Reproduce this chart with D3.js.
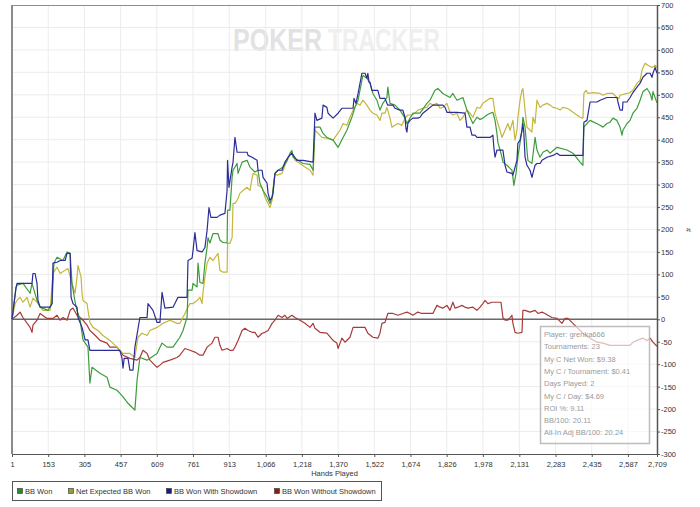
<!DOCTYPE html>
<meta charset="utf-8">
<title>BB Won graph</title>
<style>
  body { margin: 0; background: #fff; }
  text { font-family: "Liberation Sans", Arial, sans-serif; }
</style>
<body>
<script src="https://cdn.jsdelivr.net/npm/d3@7/dist/d3.min.js"></script>
<script>
// hands played ticks + bb axis ticks
var xTicks = [1,153,305,457,609,761,913,1066,1218,1370,1522,1674,1826,1978,2131,2283,2435,2587,2709];
var yTicks = [-300,-250,-200,-150,-100,-50,0,50,100,150,200,250,300,350,400,450,500,550,600,650,700];

// [hand, bb]
var bbWon = [[1,0],[18,71],[22,76],[47,80],[77,58],[85,80],[106,42],[119,27],[152,20],[169,35],[177,125],[190,138],[215,131],[232,150],[245,147],[253,80],[266,38],[274,20],[287,-2],[299,-46],[320,-62],[328,-142],[337,-107],[370,-120],[400,-129],[412,-151],[442,-158],[454,-165],[467,-173],[488,-187],[509,-198],[517,-202],[526,-136],[538,-85],[568,-91],[610,-76],[631,-53],[652,-62],[677,-62],[706,-40],[719,-25],[736,5],[740,65],[757,65],[761,80],[778,72],[782,125],[790,82],[803,80],[811,125],[820,160],[824,182],[832,170],[845,191],[866,191],[874,176],[887,171],[904,170],[906,243],[916,243],[925,316],[929,332],[946,347],[950,325],[967,350],[988,354],[1000,339],[1021,328],[1034,332],[1042,303],[1055,287],[1072,272],[1084,258],[1093,272],[1105,325],[1118,332],[1139,339],[1156,354],[1168,370],[1176,376],[1181,361],[1202,354],[1223,347],[1252,345],[1265,332],[1273,428],[1294,428],[1307,414],[1323,405],[1349,399],[1370,383],[1391,405],[1407,421],[1428,450],[1441,472],[1454,488],[1470,532],[1474,543],[1491,537],[1504,526],[1516,503],[1533,488],[1546,466],[1558,481],[1575,494],[1579,517],[1588,481],[1609,477],[1630,466],[1651,448],[1659,436],[1684,459],[1714,459],[1743,481],[1756,488],[1777,510],[1789,514],[1810,503],[1840,494],[1852,503],[1869,488],[1894,494],[1911,466],[1924,450],[1936,436],[1953,450],[1966,445],[1978,448],[1995,455],[2008,459],[2020,461],[2029,443],[2037,414],[2041,394],[2050,377],[2058,361],[2062,350],[2079,343],[2092,336],[2100,332],[2104,316],[2108,298],[2117,325],[2125,361],[2142,421],[2146,450],[2155,428],[2163,377],[2167,354],[2184,347],[2197,405],[2205,377],[2218,361],[2230,372],[2247,377],[2260,370],[2289,383],[2331,377],[2356,370],[2386,350],[2398,343],[2402,428],[2415,436],[2428,443],[2470,432],[2482,428],[2499,436],[2512,439],[2524,448],[2541,443],[2554,428],[2562,410],[2566,421],[2583,436],[2596,443],[2608,459],[2625,470],[2638,488],[2650,507],[2667,514],[2680,503],[2688,488],[2692,507],[2709,482]];

var netExpected = [[1,0],[14,35],[22,42],[35,49],[47,38],[64,49],[77,27],[89,47],[106,38],[131,20],[161,20],[173,102],[190,116],[203,102],[224,109],[236,113],[253,80],[266,58],[274,94],[278,120],[291,94],[295,58],[299,42],[316,35],[320,20],[328,-7],[341,-18],[362,-25],[383,-36],[412,-47],[442,-62],[467,-76],[496,-76],[517,-85],[530,-40],[547,-31],[568,-36],[580,-25],[610,-18],[635,-9],[664,-2],[694,-9],[706,-9],[727,13],[748,35],[761,35],[778,42],[790,49],[799,35],[803,60],[811,94],[820,125],[832,138],[845,131],[866,147],[874,109],[887,105],[904,105],[906,169],[916,169],[925,182],[929,258],[937,258],[946,265],[950,269],[958,281],[971,287],[988,294],[1000,287],[1009,314],[1013,325],[1030,321],[1034,298],[1051,294],[1063,272],[1076,258],[1084,249],[1093,265],[1105,325],[1114,321],[1135,325],[1147,343],[1160,358],[1176,372],[1189,354],[1210,347],[1231,339],[1252,332],[1265,321],[1273,421],[1286,414],[1302,405],[1328,403],[1349,399],[1357,405],[1378,421],[1391,436],[1407,432],[1420,450],[1433,466],[1449,481],[1462,477],[1474,488],[1491,477],[1504,466],[1516,459],[1533,455],[1546,443],[1554,459],[1567,459],[1575,472],[1588,448],[1596,428],[1609,432],[1621,436],[1638,432],[1651,448],[1663,455],[1680,455],[1693,459],[1705,466],[1726,470],[1743,472],[1756,481],[1768,477],[1785,481],[1798,470],[1810,472],[1827,481],[1840,461],[1852,455],[1869,459],[1882,443],[1894,450],[1911,466],[1924,459],[1936,450],[1953,472],[1966,470],[1978,481],[1995,488],[2008,492],[2020,492],[2029,459],[2041,436],[2050,421],[2058,405],[2062,410],[2071,421],[2083,436],[2092,421],[2104,443],[2113,399],[2121,421],[2125,450],[2134,488],[2142,510],[2146,514],[2155,466],[2163,428],[2176,421],[2184,417],[2188,450],[2197,436],[2205,488],[2218,472],[2230,477],[2247,481],[2260,477],[2272,472],[2289,470],[2302,466],[2314,472],[2331,470],[2344,466],[2356,461],[2373,455],[2386,450],[2398,448],[2402,503],[2411,510],[2419,503],[2440,505],[2470,503],[2482,499],[2499,503],[2524,503],[2541,494],[2549,492],[2554,499],[2583,503],[2596,505],[2608,510],[2625,526],[2638,532],[2646,555],[2659,570],[2671,566],[2688,561],[2701,566],[2709,561]];

var withShowdown = [[1,0],[18,71],[22,80],[85,80],[89,102],[98,102],[106,80],[110,42],[119,27],[161,27],[169,35],[173,125],[190,127],[203,131],[224,131],[232,147],[245,147],[249,49],[257,35],[274,27],[278,4],[295,-18],[308,-46],[320,-46],[328,-69],[454,-69],[463,-87],[467,-109],[472,-87],[488,-87],[496,-113],[509,-113],[517,-62],[538,4],[568,4],[572,35],[593,20],[610,-7],[622,-7],[631,60],[643,25],[677,27],[698,49],[736,49],[740,131],[757,136],[761,153],[769,193],[778,153],[799,150],[811,160],[820,198],[828,249],[836,227],[862,227],[874,232],[895,236],[904,287],[906,354],[912,294],[925,339],[929,350],[937,405],[946,372],[988,372],[992,365],[1009,361],[1030,354],[1034,332],[1051,332],[1055,316],[1063,310],[1072,303],[1076,281],[1084,265],[1093,272],[1097,281],[1105,325],[1118,332],[1135,332],[1139,339],[1147,350],[1160,361],[1176,370],[1197,354],[1223,354],[1265,350],[1273,459],[1281,443],[1302,448],[1307,477],[1323,472],[1328,459],[1349,448],[1370,459],[1386,470],[1433,470],[1437,492],[1445,481],[1454,503],[1470,548],[1483,548],[1491,537],[1495,548],[1500,528],[1504,528],[1512,510],[1537,510],[1546,492],[1567,492],[1575,481],[1579,477],[1600,477],[1609,470],[1630,466],[1642,466],[1651,450],[1655,425],[1659,417],[1663,436],[1672,443],[1684,448],[1705,448],[1714,450],[1726,459],[1743,466],[1768,477],[1810,477],[1819,472],[1827,461],[1869,461],[1903,459],[1911,428],[1924,428],[1932,410],[1945,410],[1953,405],[2008,405],[2020,410],[2024,383],[2029,361],[2037,377],[2062,377],[2071,343],[2079,328],[2100,325],[2104,321],[2121,354],[2125,392],[2134,399],[2142,421],[2146,436],[2150,414],[2155,361],[2163,343],[2176,332],[2184,316],[2188,325],[2197,343],[2205,347],[2218,347],[2226,354],[2247,361],[2272,365],[2289,370],[2302,365],[2398,365],[2402,439],[2415,443],[2428,484],[2457,484],[2470,488],[2499,494],[2541,494],[2545,484],[2554,466],[2564,466],[2566,484],[2583,484],[2596,494],[2608,505],[2625,517],[2638,526],[2650,539],[2667,548],[2680,548],[2688,539],[2692,548],[2701,561],[2709,548]];

var withoutShowdown = [[1,0],[22,9],[35,16],[47,4],[77,-18],[85,-29],[89,-13],[106,-2],[119,13],[148,2],[173,2],[190,9],[203,-2],[215,4],[232,-2],[245,20],[257,25],[274,9],[287,4],[299,-2],[316,-13],[328,-25],[341,-31],[358,-40],[370,-47],[400,-53],[412,-62],[442,-62],[467,-80],[496,-87],[526,-91],[538,-85],[551,-69],[568,-76],[580,-91],[593,-98],[610,-107],[622,-102],[635,-96],[664,-91],[694,-85],[706,-80],[727,-65],[748,-69],[769,-73],[790,-80],[803,-80],[820,-62],[841,-53],[853,-40],[866,-40],[874,-58],[883,-69],[904,-65],[916,-69],[929,-69],[937,-62],[950,-47],[967,-25],[979,-20],[992,-25],[1009,-29],[1021,-29],[1034,-40],[1051,-31],[1063,-29],[1076,-25],[1093,-9],[1105,-2],[1118,9],[1135,4],[1147,9],[1156,2],[1176,9],[1189,4],[1210,-2],[1231,-9],[1252,-18],[1265,-9],[1273,-20],[1294,-29],[1323,-31],[1349,-47],[1365,-53],[1370,-65],[1386,-42],[1399,-51],[1420,-40],[1433,-18],[1449,-18],[1483,-18],[1495,-31],[1516,-40],[1537,-42],[1546,-31],[1554,-9],[1567,-7],[1579,13],[1600,13],[1621,9],[1642,13],[1659,16],[1672,13],[1684,9],[1705,16],[1722,13],[1743,13],[1768,13],[1785,31],[1798,27],[1810,25],[1827,31],[1840,20],[1852,38],[1861,25],[1873,27],[1890,31],[1903,27],[1915,25],[1936,27],[1953,20],[1966,27],[1978,35],[1987,42],[1999,35],[2016,38],[2041,38],[2054,38],[2062,4],[2071,-2],[2083,-2],[2100,9],[2104,-9],[2113,-29],[2125,-31],[2142,-29],[2146,20],[2155,20],[2176,16],[2197,20],[2209,13],[2226,16],[2239,13],[2251,9],[2268,4],[2289,2],[2310,-9],[2323,2],[2335,2],[2352,-7],[2373,-18],[2398,-31],[2428,-42],[2457,-51],[2482,-53],[2512,-58],[2596,-58],[2608,-51],[2625,-47],[2650,-42],[2667,-47],[2680,-42],[2692,-51],[2709,-60]];

var seriesNames = ['BB Won','Net Expected BB Won','BB Won With Showdown','BB Won Without Showdown'];
var lineColors = ['#3c9c3c','#c4b63e','#2c2c98','#a83a3a'];
var swatchColors = ['#2a8a2a','#9c9a3c','#1c1c80','#8a1c1c'];

var statLines = ['Player: grenka666','Tournaments: 23','My C Net Won: $9.38','My C / Tournament: $0.41','Days Played: 2','My C / Day: $4.69','ROI %: 9.11','BB/100: 20.11','All-In Adj BB/100: 20.24'];

var W = 700, H = 507;
var plotL = 12, plotR = 657, plotT = 5, plotB = 454;

var svg = d3.select('body').append('svg')
    .attr('width', W)
    .attr('height', H);

var x = d3.scaleLinear().domain([1, 2709]).range([plotL, plotR]);
var y = d3.scaleLinear().domain([-300, 700]).range([plotB, plotT]);

// watermark (two words, two greys)
svg.append('text')
    .attr('x', 233).attr('y', 51)
    .attr('textLength', 89).attr('lengthAdjust', 'spacingAndGlyphs')
    .style('font-size', '31px').style('font-weight', 'bold').style('fill', '#e2e2e2')
    .text('POKER');
svg.append('text')
    .attr('x', 328).attr('y', 51)
    .attr('textLength', 112).attr('lengthAdjust', 'spacingAndGlyphs')
    .style('font-size', '31px').style('font-weight', 'bold').style('fill', '#efefef')
    .text('TRACKER');

// grid
svg.append('g').selectAll('line').data(xTicks.slice(1, -1)).enter().append('line')
    .attr('x1', function(d){ return x(d); }).attr('x2', function(d){ return x(d); })
    .attr('y1', plotT).attr('y2', plotB)
    .style('stroke', '#ececec').style('stroke-width', 1);
svg.append('g').selectAll('line').data(yTicks.slice(1, -1)).enter().append('line')
    .attr('x1', plotL).attr('x2', plotR)
    .attr('y1', function(d){ return y(d); }).attr('y2', function(d){ return y(d); })
    .style('stroke', '#ececec').style('stroke-width', 1);

// frame
svg.append('line').attr('x1', plotL).attr('x2', plotR).attr('y1', plotT + 0.5).attr('y2', plotT + 0.5)
    .style('stroke', '#8c8c8c');
svg.append('line').attr('x1', plotL).attr('x2', plotL).attr('y1', plotT).attr('y2', plotB)
    .style('stroke', '#8c8c8c').style('stroke-width', 2);

// zero line
svg.append('line').attr('x1', plotL).attr('x2', plotR).attr('y1', y(0)).attr('y2', y(0))
    .style('stroke', '#6a6a6a').style('stroke-width', 1.5);

// series
var line = d3.line()
    .x(function(d){ return x(d[0]); })
    .y(function(d){ return y(d[1]); });
var allSeries = [bbWon, netExpected, withShowdown, withoutShowdown];
var drawOrder = [3, 1, 0, 2];
drawOrder.forEach(function(i){
  svg.append('path')
      .datum(allSeries[i])
      .attr('d', line)
      .style('fill', 'none')
      .style('stroke', lineColors[i])
      .style('stroke-width', 1.2)
      .style('stroke-linejoin', 'round');
});

// axes
var xAxis = svg.append('g')
    .attr('transform', 'translate(0,' + plotB + ')')
    .call(d3.axisBottom(x).tickValues(xTicks).tickFormat(d3.format(',')).tickSize(3).tickSizeOuter(0));
xAxis.select('.domain').style('stroke', '#555');
xAxis.selectAll('line').style('stroke', '#555');
xAxis.selectAll('text').style('font-size', '7.5px').style('fill', '#333').attr('dy', '0.9em');

var yAxis = svg.append('g')
    .attr('transform', 'translate(' + plotR + ',0)')
    .call(d3.axisRight(y).tickValues(yTicks).tickFormat(function(d){ return String(d); }).tickSize(3).tickSizeOuter(0));
yAxis.select('.domain').style('stroke', '#555').style('stroke-width', 1.5);
yAxis.selectAll('line').style('stroke', '#555');
yAxis.selectAll('text').style('font-size', '7.5px').style('fill', '#333').attr('x', 4);

svg.append('text')
    .attr('x', (plotL + plotR) / 2).attr('y', 476)
    .attr('text-anchor', 'middle')
    .style('font-size', '7.5px').style('fill', '#333')
    .text('Hands Played');

svg.append('text')
    .attr('transform', 'translate(686,230) rotate(90)')
    .attr('text-anchor', 'middle')
    .style('font-size', '7px').style('fill', '#333')
    .text('#');

// stats box
var box = svg.append('g');
box.append('rect')
    .attr('x', 540.5).attr('y', 326.5).attr('width', 109).attr('height', 117)
    .style('fill', '#fff').style('fill-opacity', 0.65)
    .style('stroke', '#bdbdbd').style('stroke-width', 1.5);
box.selectAll('text').data(statLines).enter().append('text')
    .attr('x', 544)
    .attr('y', function(d, i){ return 337 + i * 12.3; })
    .style('font-size', '7.5px').style('fill', '#9a9a9a')
    .text(function(d){ return d; });

// legend
var legend = svg.append('g');
legend.append('rect')
    .attr('x', 12.5).attr('y', 481.5).attr('width', 369).attr('height', 19)
    .style('fill', '#fff').style('stroke', '#555');
var legX = [17, 68, 166, 274];
seriesNames.forEach(function(name, i){
  legend.append('rect')
      .attr('x', legX[i] + 0.5).attr('y', 488.5).attr('width', 5).attr('height', 5)
      .style('fill', swatchColors[i]).style('stroke', '#333').style('stroke-width', 0.6);
  legend.append('text')
      .attr('x', legX[i] + 8).attr('y', 494)
      .style('font-size', '7.5px').style('fill', '#333')
      .text(name);
});
</script>
</body>
